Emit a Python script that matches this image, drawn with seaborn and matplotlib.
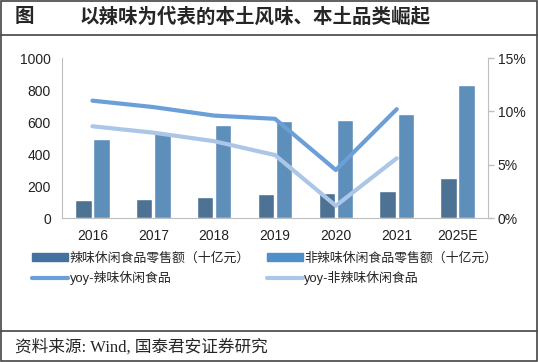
import numpy as np
import pandas as pd
import seaborn as sns
import matplotlib.pyplot as plt
from matplotlib.patches import Rectangle
from matplotlib.lines import Line2D

# data
years = ['2016', '2017', '2018', '2019', '2020', '2021', '2025E']
spicy_sales = [112, 119, 133, 148, 154, 169, 252]
nonspicy_sales = [496, 535, 581, 606, 612, 648, 829]
yoy_years = ['2016', '2017', '2018', '2019', '2020', '2021']
yoy_spicy = [11.0, 10.4, 9.6, 9.3, 4.5, 10.2]
yoy_nonspicy = [8.6, 8.0, 7.2, 5.9, 1.15, 5.6]

lab_bar1 = '辣味休闲食品零售额（十亿元）'
lab_bar2 = '非辣味休闲食品零售额（十亿元）'
lab_line1 = 'yoy-辣味休闲食品'
lab_line2 = 'yoy-非辣味休闲食品'

c_bar1 = '#43729f'
c_bar2 = '#4f8fc9'
c_line1 = '#6a9fd8'
c_line2 = '#abc6e6'

sns.set_style('white')
plt.rcParams['font.family'] = ['Liberation Sans', 'Noto Sans CJK SC']

bars = pd.DataFrame({
    'year': years * 2,
    'value': spicy_sales + nonspicy_sales,
    'series': [lab_bar1] * len(years) + [lab_bar2] * len(years),
})
pos = {y: i for i, y in enumerate(years)}
lines = pd.DataFrame({
    'x': [pos[y] for y in yoy_years] * 2,
    'yoy': yoy_spicy + yoy_nonspicy,
    'series': [lab_line1] * len(yoy_years) + [lab_line2] * len(yoy_years),
})

fig = plt.figure(figsize=(5.38, 3.62), dpi=100)
ax = fig.add_axes([62 / 538, 1 - 218 / 362, 426 / 538, 160 / 362])

sns.barplot(data=bars, x='year', y='value', hue='series',
            palette={lab_bar1: c_bar1, lab_bar2: c_bar2},
            width=0.6, gap=0.1, ax=ax)
ax.legend_.remove()
ax.set(xlim=(-0.5, 6.5), ylim=(0, 1000), yticks=np.arange(0, 1001, 200))
ax.set_xlabel('')
ax.set_ylabel('')

ax2 = ax.twinx()
sns.lineplot(data=lines, x='x', y='yoy', hue='series',
             palette={lab_line1: c_line1, lab_line2: c_line2},
             linewidth=3, ax=ax2, legend=False)
ax2.set(ylim=(0, 15), yticks=[0, 5, 10, 15], xlim=(-0.5, 6.5))
ax2.set_yticklabels(['0%', '5%', '10%', '15%'])
ax2.set_xlabel('')
ax2.set_ylabel('')

for a in (ax, ax2):
    for s in a.spines.values():
        s.set_visible(False)
    a.tick_params(labelsize=10, colors='#222222')
ax.spines['left'].set_visible(True)
ax.spines['left'].set_color('#bfbfbf')
ax.spines['bottom'].set_visible(True)
ax.spines['bottom'].set_color('#bfbfbf')
ax2.spines['right'].set_visible(True)
ax2.spines['right'].set_color('#bfbfbf')
ax.tick_params(axis='both', length=0, pad=8)
ax2.tick_params(axis='y', length=4, width=1, color='#bfbfbf', pad=3)

# legend
handles = [
    Rectangle((0, 0), 1, 1, color=c_bar1),
    Line2D([], [], color=c_line1, linewidth=3),
    Rectangle((0, 0), 1, 1, color=c_bar2),
    Line2D([], [], color=c_line2, linewidth=3),
]
labels = [lab_bar1, lab_line1, lab_bar2, lab_line2]
fig.legend(handles, labels, ncol=2, frameon=False, fontsize=9.3,
           loc='upper left', bbox_to_anchor=(27 / 538, 1 - 247 / 362),
           handlelength=2.8, handleheight=0.5, handletextpad=0.1,
           columnspacing=1.3, labelspacing=0.5, borderaxespad=0)

# frame, title and footer
fig.patches.append(Rectangle((1 / 538, 1 / 362), 536 / 538, 360 / 362,
                             transform=fig.transFigure, fill=False,
                             edgecolor='#444444', linewidth=1.2))
for yy in (35, 331):
    fig.add_artist(Line2D([1 / 538, 537 / 538], [1 - yy / 362] * 2,
                          transform=fig.transFigure, color='#444444', linewidth=1.2))
fig.text(15 / 538, 1 - 17 / 362, '图', fontsize=14, fontweight='bold',
         family=['Noto Sans CJK SC'], va='center', ha='left')
fig.text(80 / 538, 1 - 17 / 362, '以辣味为代表的本土风味、本土品类崛起', fontsize=14,
         fontweight='bold', family=['Noto Sans CJK SC'], va='center', ha='left')
fig.text(15 / 538, 1 - 347 / 362, '资料来源: Wind, 国泰君安证券研究', fontsize=12,
         family=['Liberation Serif', 'Noto Sans CJK SC'], va='center', ha='left')

fig.savefig('out.png', dpi=100)
